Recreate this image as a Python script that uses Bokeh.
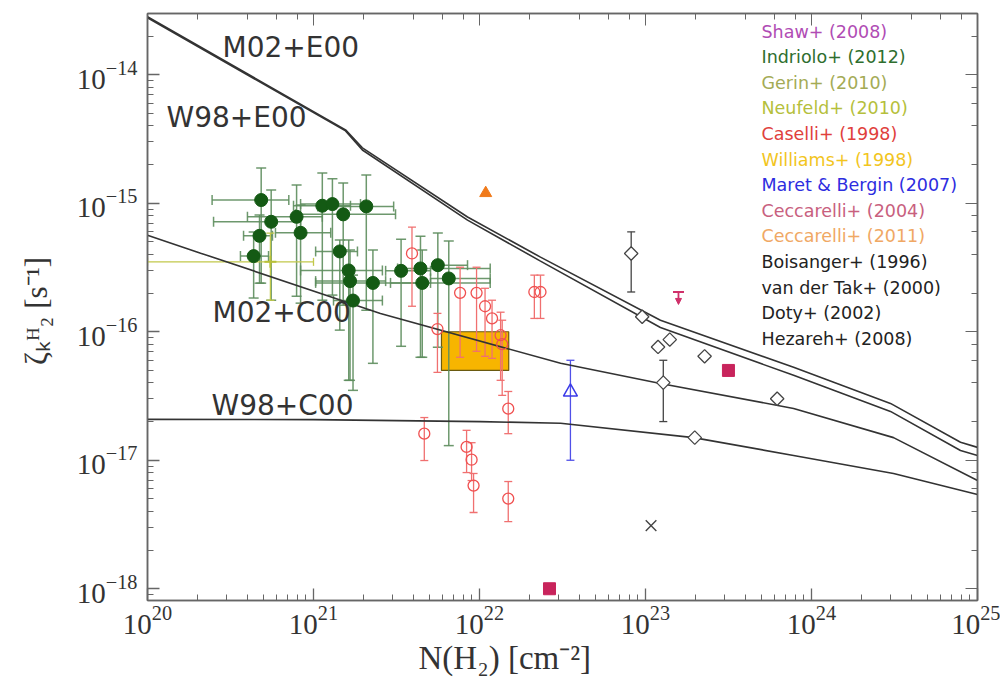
import numpy as np
from bokeh.plotting import figure
from bokeh.models import (ColumnDataSource, Whisker, TeeHead, LogAxis, LinearAxis, Label, Range1d,
                          Arrow, NormalHead, FixedTicker, Title)
from bokeh.embed import file_html
from bokeh.resources import INLINE

# ---------------- model curves ----------------
m02e00_N = [1e20, 1.56e21, 1.97e21, 8.47e21, 2.33e22, 1.23e23, 7.80e23, 2.99e24, 7.90e24, 1e25]
m02e00_z = [2.83e-14, 3.73e-15, 2.70e-15, 7.82e-16, 3.81e-16, 1.23e-16, 5.29e-17, 2.77e-17, 1.38e-17, 1.26e-17]
w98e00_N = [1e20, 1.56e21, 1.97e21, 8.47e21, 2.33e22, 1.23e23, 7.80e23, 2.99e24, 7.90e24, 1e25]
w98e00_z = [2.78e-14, 3.66e-15, 2.60e-15, 7.39e-16, 3.55e-16, 1.08e-16, 4.58e-17, 2.40e-17, 1.19e-17, 1.09e-17]
m02c00_N = [1e20, 2.09e20, 2.53e21, 3.08e22, 1.23e23, 7.80e23, 3.12e24, 1e25]
m02c00_z = [5.65e-16, 4.09e-16, 1.39e-16, 5.68e-17, 3.96e-17, 2.53e-17, 1.50e-17, 6.95e-18]
w98c00_N = [1e20, 1e21, 1.01e22, 3.08e22, 1.95e23, 7.80e23, 3.12e24, 1e25]
w98c00_z = [2.08e-17, 2.07e-17, 2.00e-17, 1.94e-17, 1.50e-17, 1.09e-17, 7.89e-18, 5.41e-18]

# ---------------- Indriolo+ (2012) ----------------
ind_N = [4.36e20, 4.84e20, 5.56e20, 4.73e20, 7.91e20, 8.36e20, 1.13e21, 1.30e21, 1.51e21, 2.08e21,
         1.44e21, 1.63e21, 1.66e21, 1.73e21, 2.28e21, 3.37e21, 4.41e21, 4.52e21, 5.61e21, 6.53e21]
ind_z = [3.88e-16, 1.06e-15, 7.18e-16, 5.58e-16, 7.85e-16, 5.89e-16, 9.57e-16, 9.86e-16, 8.20e-16, 9.46e-16,
         4.22e-16, 3.00e-16, 2.48e-16, 1.75e-16, 2.40e-16, 2.98e-16, 3.11e-16, 2.40e-16, 3.30e-16, 2.60e-16]
ind_N_lo = [3.63e20, 2.45e20, 2.50e20, 3.79e20, 4.00e20, 5.90e20, 7.58e20, 8.36e20, 7.80e20, 1.06e21,
            1.03e21, 8.36e20, 1.03e21, 1.32e21, 1.03e21, 2.72e21, 3.21e21, 2.91e21, 5.28e21, 5.07e21]
ind_N_hi = [5.36e20, 7.10e20, 8.36e20, 5.66e20, 1.13e21, 1.27e21, 1.67e21, 1.92e21, 3.12e21, 3.04e21,
            1.84e21, 2.60e21, 2.72e21, 2.60e21, 5.07e21, 5.07e21, 1.16e22, 1.16e22, 8.47e21, 1.16e22]
ind_z_lo = [1.83e-16, 2.39e-16, 1.76e-16, 2.39e-16, 1.89e-16, 1.67e-16, 1.76e-16, 1.93e-16, 1.61e-16, 1.47e-16,
            1.03e-16, 4.19e-17, 4.19e-17, 3.50e-17, 5.68e-17, 7.71e-17, 6.33e-17, 6.33e-17, 7.58e-17, 1.30e-17]
ind_z_hi = [5.97e-16, 1.88e-15, 1.27e-15, 8.10e-16, 1.39e-15, 9.70e-16, 1.72e-15, 1.55e-15, 1.44e-15, 1.66e-15,
            5.17e-16, 5.17e-16, 4.32e-16, 2.76e-16, 4.32e-16, 5.26e-16, 5.55e-16, 4.32e-16, 5.86e-16, 5.08e-16]

# ---------------- Neufeld+ (2010) ----------------
neu_N = [5.50e20]
neu_z = [3.50e-16]
neu_N_lo = [1e20]
neu_N_hi = [1.0e21]
neu_z_lo = [1.76e-16]
neu_z_hi = [5.86e-16]

# ---------------- Caselli+ (1998) ----------------
cas_N = [3.92e21, 7.64e21, 9.60e21, 1.08e22, 1.19e22, 1.34e22, 1.37e22, 5.58e21, 2.14e22, 2.33e22,
         1.49e22, 4.65e21, 8.36e21, 8.96e21, 9.21e21, 1.49e22]
cas_z = [4.07e-16, 2.01e-16, 2.01e-16, 1.58e-16, 1.27e-16, 9.40e-17, 8.00e-17, 1.05e-16, 2.04e-16, 2.04e-16,
         2.52e-17, 1.61e-17, 1.27e-17, 1.01e-17, 6.35e-18, 5.03e-18]
cas_z_lo = [1.58e-16, 6.33e-17, 7.05e-17, 6.44e-17, 6.21e-17, 4.19e-17, 3.20e-17, 4.83e-17, 1.27e-16, 1.27e-16,
            1.61e-17, 9.95e-18, 8.02e-18, 6.95e-18, 3.92e-18, 3.33e-18]
cas_z_hi = [6.53e-16, 3.18e-16, 3.18e-16, 2.18e-16, 1.76e-16, 1.42e-16, 1.23e-16, 1.39e-16, 2.76e-16, 2.76e-16,
            3.43e-17, 2.15e-17, 1.71e-17, 1.37e-17, 7.89e-18, 6.83e-18]

# ---------------- Williams+ (1998): box ----------------
wil_N_lo = [5.9e21]
wil_N_hi = [1.5e22]
wil_z_lo = [5.0e-17]
wil_z_hi = [1.0e-16]

# ---------------- Maret & Bergin (2007) ----------------
mar_N = [3.53e22]
mar_z = [3.40e-17]
mar_z_lo = [1.0e-17]
mar_z_hi = [6.0e-17]

# ---------------- Ceccarelli+ (2004) ----------------
c04_N = [3.16e23, 2.64e22]
c04_z = [5.0e-17, 1.0e-18]
c04_lim_N = [1.58e23]
c04_lim_z = [2.04e-16]

# ---------------- Ceccarelli+ (2011) ----------------
c11_N = [1.09e22]
c11_z = [1.20e-15]

# ---------------- black: Boisanger, van der Tak, Doty, Hezareh ----------------
blk_N = [8.2e22, 9.55e22, 1.19e23, 1.40e23, 2.27e23, 1.28e23, 1.98e23, 6.21e23]
blk_z = [4.07e-16, 1.31e-16, 7.62e-17, 8.69e-17, 6.44e-17, 4.02e-17, 1.50e-17, 3.01e-17]
blkerr_N = [8.2e22, 1.28e23]
blkerr_lo = [2.04e-16, 2.0e-17]
blkerr_hi = [6.0e-16, 6.0e-17]
hez_N = [1.08e23]
hez_z = [3.10e-18]

legend_names = ["Shaw+ (2008)", "Indriolo+ (2012)", "Gerin+ (2010)", "Neufeld+ (2010)",
                "Caselli+ (1998)", "Williams+ (1998)", "Maret & Bergin (2007)", "Ceccarelli+ (2004)",
                "Ceccarelli+ (2011)", "Boisanger+ (1996)", "van der Tak+ (2000)", "Doty+ (2002)",
                "Hezareh+ (2008)"]
legend_colors = ["#b04cb4", "#2e6e2e", "#a4ab55", "#b5bf3c", "#e0403c", "#f2c51e", "#2d2de0",
                 "#c8607e", "#f0a864", "#222222", "#222222", "#222222", "#222222"]

curve_names = ["M02+E00", "W98+E00", "M02+C00", "W98+C00"]
x_title = "N(H\u2082)  [cm\u207b\u00b2]"
y_title = "\u03b6\u2096\u1d34\u2082  [s\u207b\u00b9]"

# ---------------- figure ----------------
p = figure(width=1000, height=680, x_axis_type="log", y_axis_type="log",
           x_range=Range1d(1e20, 1e25), y_range=Range1d(8.1e-19, 3.0e-14),
           output_backend="svg", toolbar_location=None,
           min_border_left=147, min_border_right=23, min_border_top=13, min_border_bottom=80)
p.grid.visible = False
p.outline_line_color = "#666666"
p.outline_line_width = 1.5
p.background_fill_color = "white"

axcol = "#666666"
for ax in [p.xaxis[0], p.yaxis[0]]:
    ax.major_tick_in = 12
    ax.major_tick_out = 0
    ax.minor_tick_in = 6
    ax.minor_tick_out = 0
    ax.axis_line_color = axcol
    ax.axis_line_width = 1.5
    ax.major_tick_line_color = axcol
    ax.minor_tick_line_color = axcol
    ax.major_tick_line_width = 1.3
    ax.major_label_text_font = "Liberation Serif"
    ax.major_label_text_font_size = "29px"
    ax.major_label_text_color = "#333333"

p.xaxis.major_label_standoff = 5
p.yaxis.major_label_standoff = 10

for loc in ["above", "right"]:
    a = LogAxis(major_tick_in=12, major_tick_out=0, minor_tick_in=6, minor_tick_out=0,
                axis_line_color=axcol, axis_line_width=1.5,
                major_tick_line_color=axcol, minor_tick_line_color=axcol,
                major_label_text_font_size="2px", major_label_text_alpha=0.0,
                major_label_standoff=0)
    p.add_layout(a, loc)

# y title on an extra tick-less axis, further out than the tick labels
ytitle_axis = LinearAxis(ticker=FixedTicker(ticks=[]), axis_line_color=None,
                         major_tick_in=0, major_tick_out=0, minor_tick_in=0, minor_tick_out=0,
                         axis_label=y_title, axis_label_standoff=20,
                         axis_label_text_font="Liberation Serif", axis_label_text_font_size="31px",
                         axis_label_text_font_style="normal", axis_label_text_color="#333333")
p.add_layout(ytitle_axis, "left")

# x title, left-aligned like the reference
p.add_layout(Title(text=x_title, align="left", offset=271, standoff=2,
                   text_font="Liberation Serif", text_font_size="33px",
                   text_font_style="normal", text_color="#333333"), "below")

# curves
curve_col = "#333333"
p.line(m02e00_N, m02e00_z, line_color=curve_col, line_width=1.6)
p.line(w98e00_N, w98e00_z, line_color=curve_col, line_width=1.6)
p.line(m02c00_N, m02c00_z, line_color=curve_col, line_width=1.6)
p.line(w98c00_N, w98c00_z, line_color=curve_col, line_width=1.6)

def whisk(base, lower, upper, dim, color, width=1.3, cap=8, alpha=1.0):
    src = ColumnDataSource(dict(base=base, lower=lower, upper=upper))
    w = Whisker(source=src, base="base", lower="lower", upper="upper", dimension=dim,
                line_color=color, line_width=width, line_alpha=alpha, level="underlay",
                upper_head=TeeHead(size=cap, line_color=color, line_width=width, line_alpha=alpha),
                lower_head=TeeHead(size=cap, line_color=color, line_width=width, line_alpha=alpha))
    p.add_layout(w)

# Williams box
p.quad(left=wil_N_lo, right=wil_N_hi, bottom=wil_z_lo, top=wil_z_hi,
       fill_color="#f7b500", line_color="#6a5a10", line_width=1.2, level="underlay")

# Indriolo
gbar = "#5d8d5d"
whisk(ind_N, ind_z_lo, ind_z_hi, "height", gbar, width=1.5, cap=10, alpha=0.9)
whisk(ind_z, ind_N_lo, ind_N_hi, "width", gbar, width=1.5, cap=10, alpha=0.9)

# Neufeld
whisk(neu_z, neu_N_lo, neu_N_hi, "width", "#c2c84a", width=1.3, cap=8)
whisk(neu_N, neu_z_lo, neu_z_hi, "height", "#c2c84a", width=1.3, cap=8)

# Caselli
rbar = "#f07070"
whisk(cas_N, cas_z_lo, cas_z_hi, "height", rbar, width=1.3, cap=8)

# Maret & Bergin
whisk(mar_N, mar_z_lo, mar_z_hi, "height", "#5050e8", width=1.3, cap=8)

# black error bars
whisk(blkerr_N, blkerr_lo, blkerr_hi, "height", "#444444", width=1.3, cap=8)

p.scatter(ind_N, ind_z, marker="circle", size=13, fill_color="#145a14", line_color="#145a14")
p.scatter(neu_N, neu_z, marker="cross", size=12, line_color="#b8c03a", line_width=2)
p.scatter(cas_N, cas_z, marker="circle", size=11, fill_color=None, line_color="#f05050", line_width=1.3)
p.scatter(mar_N, mar_z, marker="triangle", size=14, fill_color=None, line_color="#3a3ae8", line_width=1.5)
p.scatter(c04_N, c04_z, marker="square", size=12, fill_color="#c8245c", line_color="#c8245c")
p.scatter(c11_N, c11_z, marker="triangle", size=12, fill_color="#f07a1a", line_color="#f07a1a")
p.scatter(blk_N, blk_z, marker="square", angle=np.pi / 4, size=9.5, fill_color="white",
          line_color="#444444", line_width=1.3)
p.scatter(hez_N, hez_z, marker="x", size=15, line_color="#444444", line_width=1.4)

# Ceccarelli 2004 upper limit
p.scatter(c04_lim_N, c04_lim_z, marker="dash", size=11, line_color="#d0306a", line_width=2)
lim_src = ColumnDataSource(dict(x=c04_lim_N, y0=c04_lim_z, y1=[v * 0.8 for v in c04_lim_z]))
p.add_layout(Arrow(source=lim_src, x_start="x", y_start="y0", x_end="x", y_end="y1",
                   line_color="#d0306a", line_width=1.8,
                   end=NormalHead(size=6, fill_color="#d0306a", line_color="#d0306a")))

# ---------------- texts (screen coords relative to frame) ----------------
frame_h = 587
def add_text(txt, x, y_from_top, color, size, font="DejaVu Sans"):
    p.add_layout(Label(x=x, y=frame_h - y_from_top, x_units="screen", y_units="screen",
                       text=txt, text_color=color, text_font=font, text_font_size=size,
                       text_baseline="middle", text_align="left"))

curve_pos = [(75, 34), (19, 104), (65, 299), (64, 392)]
for name, (cx, cy) in zip(curve_names, curve_pos):
    add_text(name, cx, cy, "#333333", "28px")

for i, (name, col) in enumerate(zip(legend_names, legend_colors)):
    add_text(name, 614, 18 + i * 25.6, col, "17.5px")

open("out.html", "w").write(file_html(p, INLINE))
